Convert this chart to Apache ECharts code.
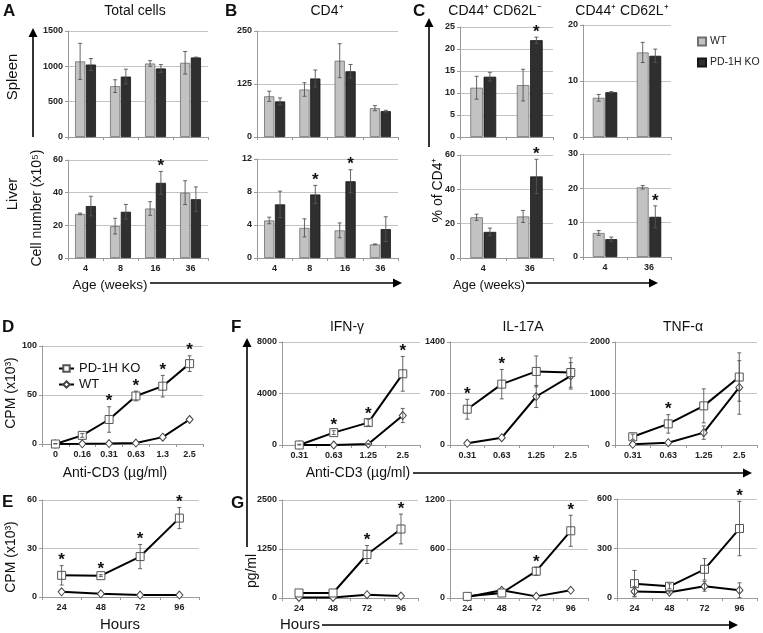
<!DOCTYPE html>
<html><head><meta charset="utf-8">
<script src="https://cdn.jsdelivr.net/npm/echarts@6/dist/echarts.min.js"></script>
<style>html,body{margin:0;padding:0;background:#fff}#c{width:763px;height:633px}</style>
</head><body><div id="c"></div>
<script>
// ---------- categories ----------
const ageA = ['4', '8', '16', '36'];
const ageC = ['4', '36'];
const doseD = ['0', '0.16', '0.31', '0.63', '1.3', '2.5'];
const doseF = ['0.31', '0.63', '1.25', '2.5'];
const hoursE = ['24', '48', '72', '96'];

// ---------- A: total cells ----------
const aSpleenWT = [1070, 720, 1040, 1050];
const aSpleenWTErr = [255, 90, 40, 160];
const aSpleenKO = [1025, 855, 970, 1125];
const aSpleenKOErr = [85, 105, 55, 5];
const aSpleenStars = [0, 0, 0, 0];
const aLiverWT = [27, 19.5, 30.3, 40];
const aLiverWTErr = [0.5, 4.8, 4.2, 7.3];
const aLiverKO = [31.8, 28.3, 46, 36];
const aLiverKOErr = [6, 4.5, 7, 7.5];
const aLiverStars = [0, 0, 1, 0];

// ---------- B: CD4+ ----------
const bSpleenWT = [96, 112, 180, 68];
const bSpleenWTErr = [12, 16, 40, 6];
const bSpleenKO = [84, 138, 155, 61];
const bSpleenKOErr = [8, 20, 16, 2];
const bSpleenStars = [0, 0, 0, 0];
const bLiverWT = [4.55, 3.65, 3.35, 1.65];
const bLiverWTErr = [0.4, 1.1, 0.9, 0.05];
const bLiverKO = [6.5, 7.7, 9.3, 3.5];
const bLiverKOErr = [1.6, 1.1, 1.4, 1.5];
const bLiverStars = [0, 1, 1, 0];

// ---------- C: % of CD4+ ----------
const c1SpleenWT = [11.2, 11.8];
const c1SpleenWTErr = [2.6, 3.6];
const c1SpleenKO = [13.7, 22];
const c1SpleenKOErr = [1, 0.7];
const c1SpleenStars = [0, 1];
const c1LiverWT = [23.7, 24.2];
const c1LiverWTErr = [1.8, 3.5];
const c1LiverKO = [15.2, 47.5];
const c1LiverKOErr = [2.2, 10];
const c1LiverStars = [0, 1];
const c2SpleenWT = [7, 15.1];
const c2SpleenWTErr = [0.6, 1.8];
const c2SpleenKO = [8, 14.5];
const c2SpleenKOErr = [0.1, 1.2];
const c2SpleenStars = [0, 0];
const c2LiverWT = [7, 20.3];
const c2LiverWTErr = [0.7, 0.5];
const c2LiverKO = [5.2, 11.7];
const c2LiverKOErr = [0.6, 3.2];
const c2LiverStars = [0, 1];

// ---------- D: proliferation vs anti-CD3 ----------
const dKO = [0, 8.8, 25, 49, 59, 82];
const dKOErr = [0.5, 2, 13, 5, 11, 8];
const dWT = [0, 0.2, 0.5, 1, 7, 25];
const dWTErr = [0, 0, 0, 0, 0, 0];
const dStars = [0, 0, 1, 1, 1, 1];

// ---------- E: proliferation vs hours ----------
const eKO = [13.4, 13.2, 25, 48.8];
const eKOErr = [6, 0.6, 7.5, 6.5];
const eWT = [3.2, 2, 1.2, 1.2];
const eWTErr = [0, 0, 0, 0];
const eStars = [1, 1, 1, 1];

// ---------- F: cytokines vs anti-CD3 ----------
const fIfnKO = [0, 960, 1740, 5530];
const fIfnKOErr = [60, 150, 250, 1350];
const fIfnWT = [0, 0, 80, 2290];
const fIfnWTErr = [0, 0, 40, 550];
const fIfnStars = [0, 1, 1, 1];
const fIl17KO = [486, 827, 1000, 985];
const fIl17KOErr = [135, 200, 210, 200];
const fIl17WT = [23, 100, 659, 940];
const fIl17WTErr = [0, 0, 150, 180];
const fIl17Stars = [1, 1, 0, 0];
const fTnfKO = [160, 410, 760, 1320];
const fTnfKOErr = [50, 180, 330, 470];
const fTnfWT = [13, 45, 240, 1117];
const fTnfWTErr = [0, 0, 130, 520];
const fTnfStars = [0, 1, 0, 0];

// ---------- G: cytokines vs hours ----------
const gIfnKO = [128, 128, 1110, 1760];
const gIfnKOErr = [0, 0, 230, 380];
const gIfnWT = [15, 15, 85, 50];
const gIfnWTErr = [0, 0, 0, 0];
const gIfnStars = [0, 0, 1, 1];
const gIl17KO = [20, 61, 328, 823];
const gIl17KOErr = [0, 0, 50, 190];
const gIl17WT = [12, 94, 20, 94];
const gIl17WTErr = [0, 0, 0, 0];
const gIl17Stars = [0, 0, 1, 1];
const gTnfKO = [87, 71, 174, 421];
const gTnfKOErr = [80, 15, 65, 165];
const gTnfWT = [40, 35, 71, 47];
const gTnfWTErr = [30, 5, 30, 45];
const gTnfStars = [0, 0, 0, 1];

// ---------- build ----------
const FONT = 'Liberation Sans, Arial, sans-serif';
const NARROW = 'Liberation Sans Narrow, Arial Narrow, Liberation Sans, sans-serif';
const grid = [], xAxis = [], yAxis = [], series = [];

function addAxes(box, cats, ymax, yint, labelFont, showX) {
  const gi = grid.length;
  grid.push({left: box[0], top: box[1], width: box[2], height: box[3], containLabel: false});
  xAxis.push({type: 'category', gridIndex: gi, data: cats, boundaryGap: true,
    axisLine: {lineStyle: {color: '#9a9a9a', width: 1}},
    axisTick: {show: true, length: 3, lineStyle: {color: '#9a9a9a'}},
    axisLabel: {show: showX !== false, fontFamily: labelFont, fontWeight: 'bold', fontSize: 9, color: '#222', margin: 6}});
  yAxis.push({type: 'value', gridIndex: gi, min: 0, max: ymax, interval: yint,
    axisLine: {show: true, lineStyle: {color: '#9a9a9a', width: 1}},
    axisTick: {show: true, length: 3, lineStyle: {color: '#9a9a9a'}},
    axisLabel: {fontFamily: labelFont, fontWeight: 'bold', fontSize: 9, color: '#222', margin: 5,
      formatter: function (v) { return String(v); }},
    splitLine: {show: true, lineStyle: {color: '#c4c4c4', width: 1}}});
  return gi;
}

function errSeries(gi, items, off) {
  return {type: 'custom', xAxisIndex: gi, yAxisIndex: gi, z: 5, silent: true,
    data: items,
    renderItem: function (params, api) {
      const i = api.value(0), v = api.value(1), e = api.value(2), dir = api.value(3), st = api.value(4);
      const bandW = api.size([1, 0])[0];
      const c = api.coord([i, v]);
      const x = c[0] + dir * off * bandW;
      const t = api.coord([i, v + e])[1];
      const b = api.coord([i, Math.max(0, v - e)])[1];
      const ch = [];
      const ls = {stroke: '#555', lineWidth: 0.9};
      if (e > 0) {
        ch.push({type: 'line', shape: {x1: x, y1: t, x2: x, y2: b}, style: ls});
        ch.push({type: 'line', shape: {x1: x - 2, y1: t, x2: x + 2, y2: t}, style: ls});
        ch.push({type: 'line', shape: {x1: x - 2, y1: b, x2: x + 2, y2: b}, style: ls});
      }
      if (st) {
        ch.push({type: 'text', style: {text: '*', x: x, y: t - 5, textAlign: 'center', textVerticalAlign: 'middle',
          font: 'bold 17px ' + FONT, fill: '#111'}});
      }
      return {type: 'group', children: ch};
    }};
}

function barPanel(box, cats, ymax, yint, wt, wtE, ko, koE, stars, w, showX) {
  const gi = addAxes(box, cats, ymax, yint, FONT, showX);
  const gap = 0.06;
  series.push({type: 'bar', name: 'WT', xAxisIndex: gi, yAxisIndex: gi, data: wt,
    barWidth: (w * 100) + '%', barGap: (gap * 100) + '%',
    itemStyle: {color: '#c2c2c2', borderColor: '#6e6e6e', borderWidth: 0.8}});
  series.push({type: 'bar', name: 'PD-1H KO', xAxisIndex: gi, yAxisIndex: gi, data: ko,
    barWidth: (w * 100) + '%', barGap: (gap * 100) + '%',
    itemStyle: {color: '#2f2f2f', borderColor: '#151515', borderWidth: 0.8}});
  const off = w * (1 + gap) / 2;
  const items = [];
  wt.forEach((v, i) => items.push([i, v, wtE[i], -1, 0]));
  ko.forEach((v, i) => items.push([i, v, koE[i], 1, stars[i]]));
  series.push(errSeries(gi, items, off));
}

function linePanel(box, cats, ymax, yint, ko, koE, wt, wtE, stars) {
  const gi = addAxes(box, cats, ymax, yint, NARROW, true);
  const items = [];
  wt.forEach((v, i) => items.push([i, v, wtE[i], 0, 0]));
  ko.forEach((v, i) => items.push([i, v, koE[i], 0, stars[i]]));
  series.push(errSeries(gi, items, 0));
  series.push({type: 'line', name: 'WT-line', xAxisIndex: gi, yAxisIndex: gi, data: wt, z: 3,
    symbol: 'diamond', symbolSize: [7, 8], showAllSymbol: true,
    itemStyle: {color: '#fff', borderColor: '#444', borderWidth: 1},
    lineStyle: {color: '#000', width: 2}});
  series.push({type: 'line', name: 'KO-line', xAxisIndex: gi, yAxisIndex: gi, data: ko, z: 4,
    symbol: 'rect', symbolSize: 8, showAllSymbol: true,
    itemStyle: {color: '#fff', borderColor: '#555', borderWidth: 1},
    lineStyle: {color: '#000', width: 2}});
}

barPanel([68, 31, 140, 106], ageA, 1500, 500, aSpleenWT, aSpleenWTErr, aSpleenKO, aSpleenKOErr, aSpleenStars, 0.29, false);
barPanel([68, 160, 140, 98], ageA, 60, 20, aLiverWT, aLiverWTErr, aLiverKO, aLiverKOErr, aLiverStars, 0.29, true);
barPanel([257, 31, 141, 106], ageA, 250, 125, bSpleenWT, bSpleenWTErr, bSpleenKO, bSpleenKOErr, bSpleenStars, 0.29, false);
barPanel([257, 159, 141, 99], ageA, 12, 4, bLiverWT, bLiverWTErr, bLiverKO, bLiverKOErr, bLiverStars, 0.29, true);
barPanel([460, 27, 93, 110], ageC, 25, 5, c1SpleenWT, c1SpleenWTErr, c1SpleenKO, c1SpleenKOErr, c1SpleenStars, 0.27, false);
barPanel([460, 155, 93, 103], ageC, 60, 20, c1LiverWT, c1LiverWTErr, c1LiverKO, c1LiverKOErr, c1LiverStars, 0.27, true);
barPanel([583, 25, 88, 112], ageC, 20, 10, c2SpleenWT, c2SpleenWTErr, c2SpleenKO, c2SpleenKOErr, c2SpleenStars, 0.27, false);
barPanel([583, 154, 88, 103], ageC, 30, 10, c2LiverWT, c2LiverWTErr, c2LiverKO, c2LiverKOErr, c2LiverStars, 0.27, true);

linePanel([42, 346, 161, 98], doseD, 100, 50, dKO, dKOErr, dWT, dWTErr, dStars);
linePanel([42, 500, 157, 97], hoursE, 60, 30, eKO, eKOErr, eWT, eWTErr, eStars);
linePanel([282, 342, 138, 103], doseF, 8000, 4000, fIfnKO, fIfnKOErr, fIfnWT, fIfnWTErr, fIfnStars);
linePanel([450, 342, 138, 103], doseF, 1400, 700, fIl17KO, fIl17KOErr, fIl17WT, fIl17WTErr, fIl17Stars);
linePanel([615, 342, 142, 103], doseF, 2000, 1000, fTnfKO, fTnfKOErr, fTnfWT, fTnfWTErr, fTnfStars);
linePanel([282, 500, 136, 98], hoursE, 2500, 1250, gIfnKO, gIfnKOErr, gIfnWT, gIfnWTErr, gIfnStars);
linePanel([450, 500, 138, 98], hoursE, 1200, 600, gIl17KO, gIl17KOErr, gIl17WT, gIl17WTErr, gIl17Stars);
linePanel([617, 499, 140, 99], hoursE, 600, 300, gTnfKO, gTnfKOErr, gTnfWT, gTnfWTErr, gTnfStars);

// ---------- annotations ----------
function txt(x, y, s, size, opts) {
  opts = opts || {};
  return {type: 'text', x: x, y: y, rotation: opts.rot || 0, z: 10,
    style: {text: s, font: (opts.bold ? 'bold ' : '') + size + 'px ' + FONT, fill: '#111',
      textAlign: opts.align || 'center', textVerticalAlign: 'middle'}};
}
function hArrow(x1, x2, y) {
  return [{type: 'line', shape: {x1: x1, y1: y, x2: x2 - 6, y2: y}, style: {stroke: '#000', lineWidth: 1.6}},
    {type: 'polygon', shape: {points: [[x2 - 9, y - 4.5], [x2, y], [x2 - 9, y + 4.5]]}, style: {fill: '#000'}}];
}
function vArrow(x, y1, y2) {
  return [{type: 'line', shape: {x1: x, y1: y1, x2: x, y2: y2 + 6}, style: {stroke: '#000', lineWidth: 1.6}},
    {type: 'polygon', shape: {points: [[x - 4.5, y2 + 9], [x, y2], [x + 4.5, y2 + 9]]}, style: {fill: '#000'}}];
}
const R = Math.PI / 2;
const graphic = [
  txt(3, 11, 'A', 17, {bold: true, align: 'left'}),
  txt(225, 11, 'B', 17, {bold: true, align: 'left'}),
  txt(413, 11, 'C', 17, {bold: true, align: 'left'}),
  txt(2, 327, 'D', 17, {bold: true, align: 'left'}),
  txt(2, 502, 'E', 17, {bold: true, align: 'left'}),
  txt(231, 327, 'F', 17, {bold: true, align: 'left'}),
  txt(231, 503, 'G', 17, {bold: true, align: 'left'}),
  txt(135, 11, 'Total cells', 14),
  txt(327, 11, 'CD4\u207A', 14),
  txt(495, 11, 'CD44\u207A CD62L\u207B', 14),
  txt(622, 11, 'CD44\u207A CD62L\u207A', 14),
  txt(13, 77, 'Spleen', 15, {rot: R}),
  txt(13, 194, 'Liver', 15, {rot: R}),
  txt(37, 208, 'Cell number (x10\u2075)', 14, {rot: R}),
  txt(110, 285, 'Age (weeks)', 13.5),
  txt(489, 285, 'Age (weeks)', 13),
  txt(438, 190, '% of CD4\u207A', 14, {rot: R}),
  txt(11, 393, 'CPM (x10\u00B3)', 14, {rot: R}),
  txt(11, 557, 'CPM (x10\u00B3)', 14, {rot: R}),
  txt(115, 473, 'Anti-CD3 (\u00B5g/ml)', 14),
  txt(120, 625, 'Hours', 15),
  txt(347, 327, 'IFN-\u03B3', 14),
  txt(523, 327, 'IL-17A', 14),
  txt(683, 327, 'TNF-\u03B1', 14),
  txt(252, 571, 'pg/ml', 14, {rot: R}),
  txt(358, 473, 'Anti-CD3 (\u00B5g/ml)', 14),
  txt(300, 625, 'Hours', 15)
].concat(vArrow(33, 137, 28), hArrow(150, 402, 283), hArrow(526, 658, 283), vArrow(429, 147, 18),
  hArrow(413, 752, 473), hArrow(322, 738, 625), vArrow(247, 547, 338));

const chart = echarts.init(document.getElementById('c'), null, {renderer: 'canvas'});
chart.setOption({
  animation: false,
  backgroundColor: '#fff',
  grid: grid, xAxis: xAxis, yAxis: yAxis, series: series,
  legend: [
    {data: ['WT', 'PD-1H KO'], orient: 'vertical', left: 697, top: 36, padding: 0,
      itemWidth: 8, itemHeight: 8, itemGap: 10, icon: 'rect',
      textStyle: {fontFamily: FONT, fontSize: 10.5, color: '#222', padding: [0, 0, 0, -1]}},
    {data: ['KO-line', 'WT-line'], orient: 'vertical', left: 53, top: 357, itemGap: 3,
      itemWidth: 15, itemHeight: 8,
      formatter: function (n) { return n === 'KO-line' ? 'PD-1H KO' : 'WT'; },
      textStyle: {fontFamily: FONT, fontSize: 13, color: '#111'}}
  ],
  graphic: graphic
});
</script></body></html>
